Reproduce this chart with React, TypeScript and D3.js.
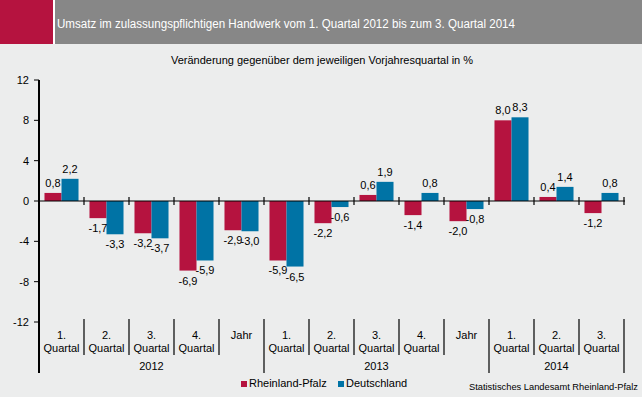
import React from 'react';
import * as d3 from 'd3';

const categories = ['2012-Q1', '2012-Q2', '2012-Q3', '2012-Q4', '2012-Jahr', '2013-Q1', '2013-Q2', '2013-Q3', '2013-Q4', '2013-Jahr', '2014-Q1', '2014-Q2', '2014-Q3'];
const catLine1 = ['1.', '2.', '3.', '4.', 'Jahr', '1.', '2.', '3.', '4.', 'Jahr', '1.', '2.', '3.'];
const catLine2 = ['Quartal', 'Quartal', 'Quartal', 'Quartal', '', 'Quartal', 'Quartal', 'Quartal', 'Quartal', '', 'Quartal', 'Quartal', 'Quartal'];
const years = ['2012', '2013', '2014'];
const yearSpans = [[0, 4], [5, 9], [10, 12]];
const seriesNames = ['Rheinland-Pfalz', 'Deutschland'];
const rheinlandPfalz = [0.8, -1.7, -3.2, -6.9, -2.9, -5.9, -2.2, 0.6, -1.4, -2.0, 8.0, 0.4, -1.2];
const deutschland = [2.2, -3.3, -3.7, -5.9, -3.0, -6.5, -0.6, 1.9, 0.8, -0.8, 8.3, 1.4, 0.8];
const yTicks = [12, 8, 4, 0, -4, -8, -12];

const colors = ['#b5133f', '#0073a5'];
const font = '"Liberation Sans", Arial, sans-serif';

const App = () => {
  const width = 642;
  const height = 397;

  const x = d3.scaleBand<string>()
    .domain(categories)
    .range([39, 624])
    .paddingInner(0.244)
    .paddingOuter(0.122);

  const x1 = d3.scaleBand<string>()
    .domain(seriesNames)
    .range([0, x.bandwidth()]);

  const y = d3.scaleLinear()
    .domain([-12, 12])
    .range([322, 80]);

  const step = x.step();
  const left = x.range()[0];
  const fmt = (v: number) => d3.format('.1f')(v).replace('.', ',').replace('−', '-');
  const series = [rheinlandPfalz, deutschland];
  const yearBounds = [0, 5, 10, 13];

  return (
    <svg width={width} height={height} style={{ position: 'fixed', left: 0, top: 0 }} fontFamily={font}>
      <rect x={0} y={0} width={width} height={height} fill="#eceded" />
      {/* header */}
      <rect x={0} y={0} width={53} height={44} fill="#b5133f" />
      <rect x={53} y={0} width={2} height={44} fill="#ffffff" />
      <rect x={55} y={0} width={587} height={44} fill="#878787" />
      <text x={57} y={28} fill="#ffffff" fontSize={12.5} textLength={458} lengthAdjust="spacingAndGlyphs">
        Umsatz im zulassungspflichtigen Handwerk vom 1. Quartal 2012 bis zum 3. Quartal 2014
      </text>
      <text x={322} y={64} textAnchor="middle" fontSize={11} fill="#000">
        Veränderung gegenüber dem jeweiligen Vorjahresquartal in %
      </text>

      {/* bars */}
      {series.map((vals, si) => (
        <g key={si}>
          {vals.map((v, i) => {
            const bx = (x(categories[i]) ?? 0) + (x1(seriesNames[si]) ?? 0);
            const top = y(Math.max(0, v));
            const h = Math.abs(y(v) - y(0));
            return <rect key={i} x={bx} y={top} width={x1.bandwidth()} height={h} fill={colors[si]} />;
          })}
        </g>
      ))}

      {/* value labels */}
      {series.map((vals, si) => (
        <g key={'l' + si}>
          {vals.map((v, i) => {
            const cx = (x(categories[i]) ?? 0) + (x1(seriesNames[si]) ?? 0) + x1.bandwidth() / 2;
            const ly = v >= 0 ? y(v) - 6 : y(v) + 14;
            return (
              <text key={i} x={cx} y={ly} textAnchor="middle" fontSize={11} fill="#000">
                {fmt(v)}
              </text>
            );
          })}
        </g>
      ))}

      {/* zero line and category ticks */}
      <line x1={39} x2={625} y1={y(0)} y2={y(0)} stroke="#000" strokeWidth={1.2} />
      {d3.range(1, categories.length + 1).map(k => (
        <line key={k} x1={left + k * step} x2={left + k * step} y1={y(0) - 4} y2={y(0) + 4} stroke="#000" strokeWidth={1.2} />
      ))}

      {/* y axis */}
      <line x1={39} x2={39} y1={80} y2={373} stroke="#000" strokeWidth={2} />
      {yTicks.map(t => (
        <g key={t}>
          <line x1={34} x2={39} y1={y(t)} y2={y(t)} stroke="#000" strokeWidth={1} />
          <text x={29} y={y(t) + 4} textAnchor="end" fontSize={11} fill="#000">{t}</text>
        </g>
      ))}

      {/* category separators */}
      {d3.range(1, categories.length + 1).map(k => {
        const isYear = yearBounds.includes(k);
        return (
          <line key={'s' + k} x1={left + k * step} x2={left + k * step} y1={319} y2={isYear ? 373 : 355} stroke="#000" strokeWidth={1.2} />
        );
      })}

      {/* category labels */}
      {categories.map((c, i) => {
        const cx = (x(c) ?? 0) + x.bandwidth() / 2;
        return (
          <g key={'c' + c} fontSize={11} fill="#000" textAnchor="middle">
            <text x={cx} y={339}>{catLine1[i]}</text>
            {catLine2[i] && <text x={cx} y={352}>{catLine2[i]}</text>}
          </g>
        );
      })}
      {years.map((yr, i) => {
        const [a, b] = yearSpans[i];
        const cx = ((x(categories[a]) ?? 0) + (x(categories[b]) ?? 0) + x.bandwidth()) / 2;
        return <text key={yr} x={cx} y={370} textAnchor="middle" fontSize={11} fill="#000">{yr}</text>;
      })}

      {/* legend */}
      {seriesNames.map((n, i) => {
        const lx = i === 0 ? 241 : 338;
        return (
          <g key={n}>
            <rect x={lx} y={381} width={6} height={6} fill={colors[i]} />
            <text x={lx + 8} y={387} fontSize={11} fill="#000">{n}</text>
          </g>
        );
      })}

      <text x={638} y={390} fontSize={9.3} fill="#000" textAnchor="end">
        Statistisches Landesamt Rheinland-Pfalz
      </text>
    </svg>
  );
};

export default App;
